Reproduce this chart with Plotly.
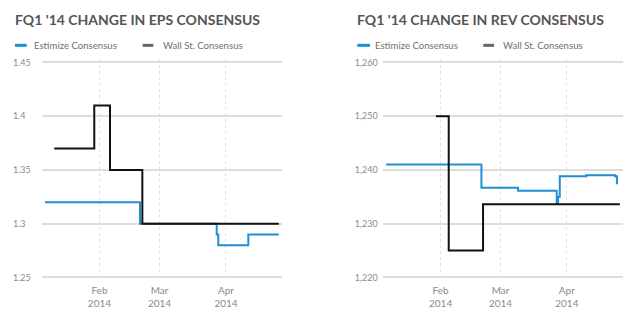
import plotly.graph_objects as go

# ---- EPS consensus (step series) ----
eps_est_dates = ["2014-01-06 14:00", "2014-02-19 22:00", "2014-03-27 16:00",
                 "2014-03-28 10:00", "2014-04-11 10:00", "2014-04-25 16:00"]
eps_est_vals = [1.32, 1.30, 1.29, 1.28, 1.29, 1.29]

eps_ws_dates = ["2014-01-10 22:00", "2014-01-29 14:00", "2014-02-05 22:00",
                "2014-02-21 00:00", "2014-04-25 16:00"]
eps_ws_vals = [1.37, 1.41, 1.35, 1.30, 1.30]

# ---- Revenue consensus (step series) ----
rev_est_dates = ["2014-01-06 12:00", "2014-02-20 02:00", "2014-03-09 05:00",
                 "2014-03-27 07:00", "2014-03-27 22:00", "2014-03-28 17:00",
                 "2014-04-10 02:00", "2014-04-23 14:00", "2014-04-24 10:00",
                 "2014-04-24 22:00"]
rev_est_vals = [1241.0, 1236.7, 1236.1, 1233.7, 1235.0, 1238.8,
                1239.0, 1238.8, 1237.5, 1237.5]

rev_ws_dates = ["2014-01-29 19:00", "2014-02-04 19:00", "2014-02-20 20:00",
                "2014-04-25 19:00"]
rev_ws_vals = [1250.0, 1225.0, 1233.6, 1233.6]

month_ticks = ["2014-02-01", "2014-03-01", "2014-04-01"]
month_labels = ["Feb<br>2014", "Mar<br>2014", "Apr<br>2014"]
x_range = ["2014-01-05 05:00", "2014-04-27 03:00"]

eps_ticks = [1.25, 1.30, 1.35, 1.40, 1.45]
eps_labels = ["1.25", "1.3", "1.35", "1.4", "1.45"]
rev_ticks = [1220, 1230, 1240, 1250, 1260]

titles = ["FQ1 '14 CHANGE IN EPS CONSENSUS", "FQ1 '14 CHANGE IN REV CONSENSUS"]
series_names = ["Estimize Consensus", "Wall St. Consensus"]

BLUE = "#1f8fd2"
BLACK = "#111111"
GRID = "#dddddd"
TICK = "#8a8a8a"
FONT = "Lato"

W, H = 640, 324

fig = go.Figure()

fig.add_trace(go.Scatter(x=eps_est_dates, y=eps_est_vals, mode="lines",
                         line=dict(color=BLUE, width=2, shape="hv"),
                         name=series_names[0], xaxis="x", yaxis="y"))
fig.add_trace(go.Scatter(x=eps_ws_dates, y=eps_ws_vals, mode="lines",
                         line=dict(color=BLACK, width=2, shape="hv"),
                         name=series_names[1], xaxis="x", yaxis="y"))
fig.add_trace(go.Scatter(x=rev_est_dates, y=rev_est_vals, mode="lines",
                         line=dict(color=BLUE, width=2, shape="hv"),
                         name=series_names[0], xaxis="x2", yaxis="y2"))
fig.add_trace(go.Scatter(x=rev_ws_dates, y=rev_ws_vals, mode="lines",
                         line=dict(color=BLACK, width=2, shape="hv"),
                         name=series_names[1], xaxis="x2", yaxis="y2"))

# plot-area geometry in pixels; a few px of padding keeps edge gridlines drawn
pad_px = 3
left_panel = (42, 282)
right_panel = (383.3, 622.7)
y_top, y_bot = 60.3 - pad_px, 278.7 + pad_px
ydom = [1 - y_bot / H, 1 - y_top / H]
span_px = 218.4

xaxis_common = dict(
    type="date", range=x_range, tickvals=month_ticks, ticktext=month_labels,
    showgrid=True, gridcolor="#e2e2e2", gridwidth=1, griddash="dot",
    showline=False, zeroline=False, ticks="", ticklabelstandoff=3,
    tickfont=dict(family=FONT, size=10, color=TICK),
)
# y labels sit left-aligned at a fixed column left of each plot area
yaxis_common = dict(
    showgrid=True, gridcolor=GRID, gridwidth=1.5, zeroline=False,
    showline=False, ticks="", side="right", anchor="free",
    tickfont=dict(family=FONT, size=9, color=TICK),
)

eps_pad = pad_px * (eps_ticks[-1] - eps_ticks[0]) / span_px
rev_pad = pad_px * (rev_ticks[-1] - rev_ticks[0]) / span_px

fig.update_layout(
    width=W, height=H,
    margin=dict(l=0, r=0, t=0, b=0),
    paper_bgcolor="white", plot_bgcolor="white",
    showlegend=False,
    xaxis=dict(domain=[left_panel[0] / W, left_panel[1] / W], anchor="y",
               **xaxis_common),
    xaxis2=dict(domain=[right_panel[0] / W, right_panel[1] / W], anchor="y2",
                **xaxis_common),
    yaxis=dict(domain=ydom, position=12 / W,
               range=[eps_ticks[0] - eps_pad, eps_ticks[-1] + eps_pad],
               tickvals=eps_ticks, ticktext=eps_labels, **yaxis_common),
    yaxis2=dict(domain=ydom, position=353.7 / W,
                range=[rev_ticks[0] - rev_pad, rev_ticks[-1] + rev_pad],
                tickvals=rev_ticks, tickformat=",", **yaxis_common),
)

annotations = []
shapes = []
for x0, title in zip([13, 354.7], titles):
    annotations.append(dict(
        text=title, xref="paper", yref="paper", x=x0 / W, y=1 - 17 / H,
        xanchor="left", yanchor="middle", showarrow=False,
        font=dict(family=FONT, size=14, color="#555555", weight="bold"),
    ))

# legend rows: (marker start, marker end, text start) per entry
legend_rows = [
    [(15, 26.7, 31.5), (142.7, 153.3, 160.5)],
    [(357.3, 370, 373.2), (483.3, 494, 500.9)],
]
legend_colors = [BLUE, "#666666"]
for row in legend_rows:
    for (m0, m1, t0), name, col in zip(row, series_names, legend_colors):
        shapes.append(dict(type="line", xref="paper", yref="paper",
                           x0=m0 / W, x1=m1 / W, y0=1 - 43 / H, y1=1 - 43 / H,
                           line=dict(color=col, width=3)))
        annotations.append(dict(
            text=name, xref="paper", yref="paper", x=t0 / W, y=1 - 43 / H,
            xanchor="left", yanchor="middle", showarrow=False,
            font=dict(family=FONT, size=9.6, color="#707070"),
        ))

fig.update_layout(annotations=annotations, shapes=shapes)

fig.write_html("out.html")
